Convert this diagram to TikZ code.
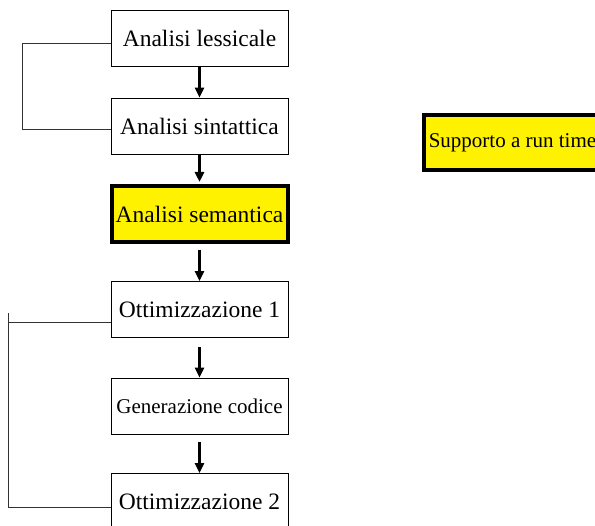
\documentclass[tikz,border=0pt]{standalone}
\usepackage{fontspec}
\setmainfont{Liberation Serif}
\usetikzlibrary{arrows.meta}

\tikzset{
  fase/.style={draw,line width=0.8pt,minimum width=177pt,minimum height=56pt,inner sep=0pt,font=\fontsize{23.5}{26}\selectfont},
  evid/.style={fase,fill=yellow,line width=4pt},
  freccia/.style={line width=2.6pt,-{Triangle[length=10pt,width=9pt]}},
  ritorno/.style={line width=0.8pt,draw=black!80}
}

\begin{document}
\begin{tikzpicture}[x=1pt,y=-1pt]
	    	\useasboundingbox (0,0) rectangle (595,526);
	    	\clip (0,0) rectangle (595,526);
	    	\node (lex) at (199.5,38) [fase] {Analisi lessicale};
	    	\node (sin) at (199.5,126) [fase] {Analisi sintattica};
	    	\node (sem) at (199.5,214) [evid,minimum width=176pt,minimum height=56pt] {Analisi semantica};
	    	\node (ott1) at (199.5,309.5) [fase] {Ottimizzazione 1};
	    	\node (gen) at (199.5,406) [fase,font=\fontsize{21}{24}\selectfont] {Generazione codice};
	    	\node (ott2) at (199.5,501.5) [fase] {Ottimizzazione 2};
	    	\node (sup) at (512.5,142.5) [evid,minimum height=55pt,font=\fontsize{21}{24}\selectfont] {Supporto a run time};
	    	\draw[freccia] (lex.south) -- (sin.north);
	    	\draw[freccia] (sin.south) -- ([yshift=2pt]sem.north);
	    	\draw[freccia,shorten <=6pt] (sem.south) -- (ott1.north);
	    	\draw[freccia,shorten <=9pt] (ott1.south) -- (gen.north);
	    	\draw[freccia,shorten <=8pt] (gen.south) -- (ott2.north);
	    	\coordinate (lexw) at ([yshift=-5pt]lex.west);
	    	\coordinate (sinw) at ([yshift=-3pt]sin.west);
	    	\coordinate (ott1w) at ([yshift=-12.5pt]ott1.west);
	    	\coordinate (ott2w) at ([yshift=-5.5pt]ott2.west);
	    	\coordinate (a) at (22,0);
	    	\coordinate (b) at (8,313);
	    	\draw[ritorno] (lexw) -| (a |- sinw) -- (sinw);
	    	\draw[ritorno] (ott1w) -- (b |- ott1w);
	    	\draw[ritorno] (b) |- (ott2w);
	    	\end{tikzpicture}
\end{document}
